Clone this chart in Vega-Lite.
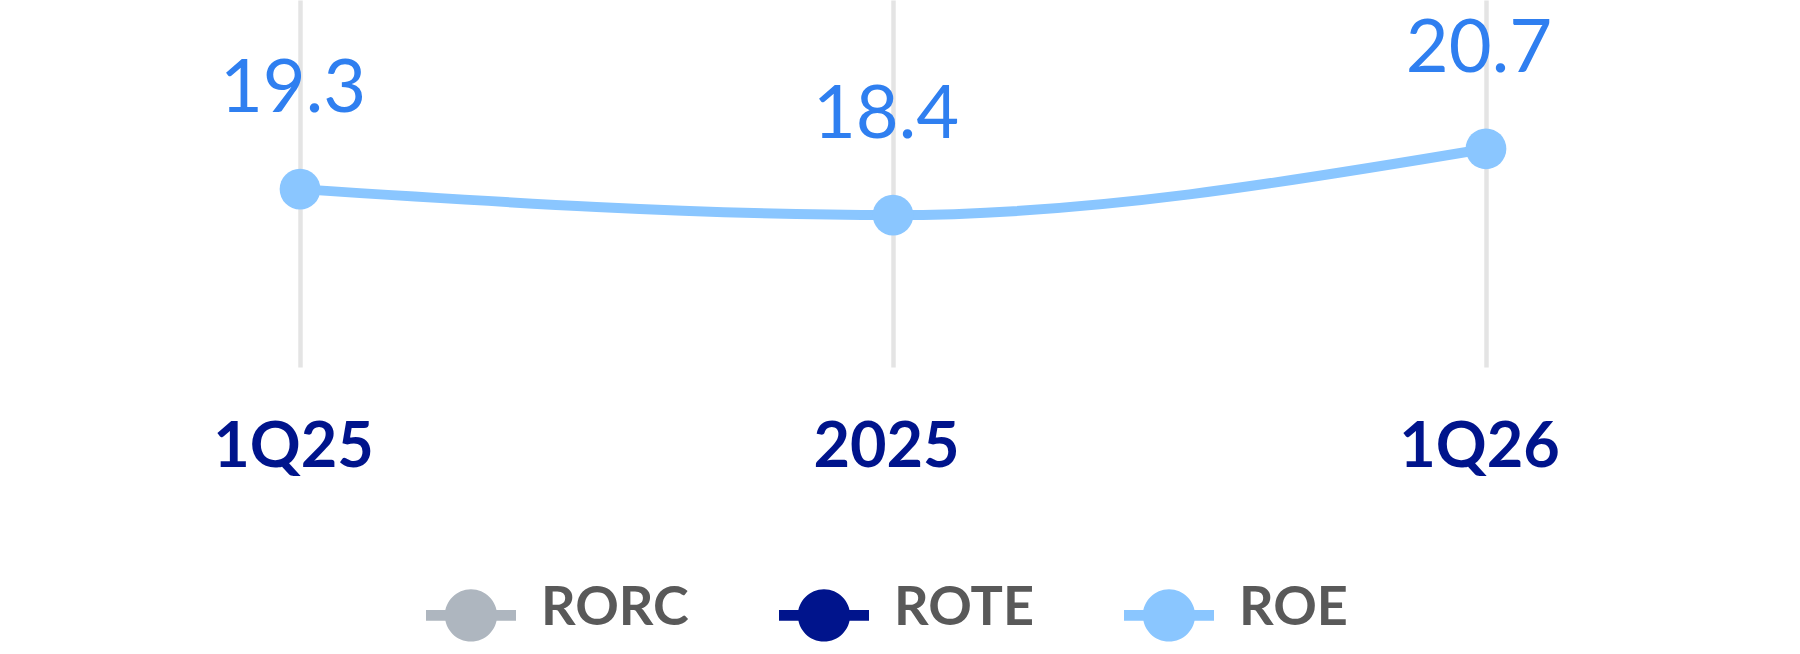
{
  "$schema": "https://vega.github.io/schema/vega-lite/v6.json",
  "width": 1786,
  "height": 367,
  "padding": 0,
  "background": "#ffffff",
  "config": {
    "view": {"stroke": null},
    "font": "Lato"
  },
  "data": {
    "values": [
      {"period": "1Q25", "series": "ROE", "value": 19.3},
      {"period": "2025", "series": "ROE", "value": 18.4},
      {"period": "1Q26", "series": "ROE", "value": 20.7}
    ]
  },
  "encoding": {
    "x": {
      "field": "period",
      "type": "ordinal",
      "sort": ["1Q25", "2025", "1Q26"],
      "scale": {"type": "point", "padding": 0.506},
      "axis": {
        "title": null,
        "domain": false,
        "ticks": false,
        "tickSize": 0,
        "grid": true,
        "gridColor": "#e4e4e4",
        "gridWidth": 4.5,
        "labelFont": "Lato",
        "labelFontSize": 63,
        "labelFontWeight": "bold",
        "labelColor": "#00148c",
        "labelPadding": 49,
        "labelOffset": -7,
        "labelAngle": 0
      }
    },
    "y": {
      "field": "value",
      "type": "quantitative",
      "scale": {"domain": [13.13, 25.86], "zero": false, "nice": false},
      "axis": null
    }
  },
  "layer": [
    {
      "mark": {"type": "line", "interpolate": "monotone", "strokeWidth": 10, "color": "#8ac6ff"}
    },
    {
      "mark": {"type": "point", "filled": true, "size": 1662, "opacity": 1},
      "encoding": {
        "color": {
          "field": "series",
          "type": "nominal",
          "scale": {
            "domain": ["RORC", "ROTE", "ROE"],
            "range": ["#aeb6bf", "#00148c", "#8ac6ff"]
          },
          "legend": {
            "title": null,
            "orient": "none",
            "direction": "horizontal",
            "legendX": 426,
            "legendY": 570,
            "padding": 0,
            "symbolType": "M-1,-0.12H1V0.12H-1Z M-0.58,0A0.58,0.58 0 1,1 0.58,0A0.58,0.58 0 1,1 -0.58,0Z",
            "symbolSize": 8100,
            "symbolStrokeWidth": 0,
            "symbolOpacity": 1,
            "labelFont": "Lato",
            "labelFontSize": 54,
            "labelFontWeight": "bold",
            "labelColor": "#595959",
            "labelOffset": 25,
            "columnPadding": 90,
            "labelLimit": 400,
            "encode": {
              "labels": {"update": {"dy": {"value": -6}}}
            }
          }
        }
      }
    },
    {
      "mark": {
        "type": "text",
        "font": "Lato",
        "fontSize": 74,
        "color": "#2f7ff0",
        "baseline": "middle",
        "align": "center",
        "dx": -7,
        "dy": -99
      },
      "encoding": {
        "text": {"field": "value", "type": "quantitative", "format": ".1f"}
      }
    }
  ]
}
